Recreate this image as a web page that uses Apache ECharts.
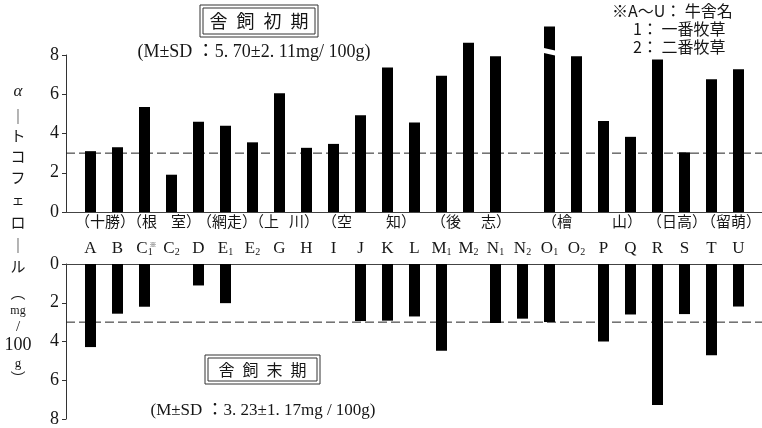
<!DOCTYPE html>
<html><head><meta charset="utf-8">
<script src="https://cdn.jsdelivr.net/npm/echarts@6/dist/echarts.min.js"></script>
<style>html,body{margin:0;padding:0;background:#fff}#c{width:762px;height:428px}</style>
</head><body><div id="c"></div>
<script>
const categories = ['A','B','C1','C2','D','E1','E2','G','H','I','J','K','L','M1','M2','N1','N2','O1','O2','P','Q','R','S','T','U'];
const earlyValues = [3.1,3.3,5.35,1.9,4.6,4.4,3.55,6.05,3.27,3.47,4.93,7.36,4.56,6.94,8.62,7.94,null,9.45,7.94,4.64,3.83,7.77,3.04,6.77,7.28];
const lateValues = [4.18,2.5,2.15,null,1.08,1.97,null,null,null,null,2.87,2.85,2.64,4.36,null,2.97,2.75,2.92,null,3.9,2.54,7.09,2.52,4.59,2.14];
const axisMin = 0, axisMax = 8, axisStep = 2;
const refLine = 3.0;
const breakMarks = [['O1', 8.14]];
const earlyTitle = '舎\u2002飼\u2002初\u2002期';
const lateTitle = '舎\u2002飼\u2002末\u2002期';
const earlyStat = '(M±SD ：5. 70±2. 11mg/ 100g)';
const lateStat = '(M±SD ：3. 23±1. 17mg / 100g)';
const noteLines = ['※A～U： 牛舎名', '1： 一番牧草', '2： 二番牧草'];

const SERIF = '"Liberation Serif","Noto Sans CJK JP",serif';
const CJK = '"Noto Sans CJK JP","Liberation Serif",sans-serif';
const INK = '#161616';

const chart = echarts.init(document.getElementById('c'));

function catLabel(v){
  if (v.length === 2) return v[0] + '{s|' + v[1] + '}';
  return v;
}

const TOP = 55, TOPH = 157, BOT = 264, BOTH = 159;
const BARL = 77, BARW = 675;

function frameY(idx, inverse){
  return {gridIndex: idx, type:'value', min:axisMin, max:axisMax, interval:axisStep, inverse:inverse,
    axisLine:{show:true, lineStyle:{color:'#333', width:1}},
    axisTick:{show:true, length:4, lineStyle:{color:'#333'}},
    axisLabel:{fontFamily:SERIF, fontSize:18, color:INK, margin:7},
    splitLine:{show:false}};
}
function frameX(idx, pos){
  return {gridIndex: idx, type:'value', min:0, max:1, position:pos,
    axisLine:{show:true, onZero:false, lineStyle:{color:'#444', width:1}},
    axisTick:{show:false}, axisLabel:{show:false}, splitLine:{show:false}};
}

// graphics
const g = [];
function box(x, y, w, h, text, fs){
  g.push({type:'rect', shape:{x:x, y:y, width:w, height:h}, style:{fill:'none', stroke:'#333', lineWidth:1}});
  g.push({type:'rect', shape:{x:x+3, y:y+3, width:w-6, height:h-6}, style:{fill:'none', stroke:'#333', lineWidth:1}});
  g.push({type:'text', x:x+w/2, y:y+h/2, style:{text:text, font:'400 '+fs+'px '+CJK, fill:INK, align:'center', verticalAlign:'middle'}});
}
box(200, 5, 118, 32, earlyTitle, 18);
box(205, 355, 115, 29, lateTitle, 16);
g.push({type:'text', x:254, y:52, style:{text:earlyStat, font:'18px '+SERIF, fill:INK, align:'center', verticalAlign:'middle'}});
g.push({type:'text', x:263, y:411, style:{text:lateStat, font:'17px '+SERIF, fill:INK, align:'center', verticalAlign:'middle'}});
const noteX = [612, 633, 633], noteY = [11, 29, 47];
noteLines.forEach((t,i)=>g.push({type:'text', x:noteX[i], y:noteY[i], style:{text:t, font:'16px '+CJK, fill:INK, verticalAlign:'middle'}}));

// region labels
const regionPieces = [['（十勝）',75],['（根',127],['室）',171],['（網走）',197],['（上',249],['川）',289],['（空',322],['知）',386],['（後',431],['志）',481],['（檜',542],['山）',612],['（日高）',647],['（留萌）',701]];
regionPieces.forEach(p=>g.push({type:'text', x:p[1], y:221, style:{text:p[0], font:'15px '+CJK, fill:INK, verticalAlign:'middle'}}));
g.push({type:'text', x:153, y:244, style:{text:'※', font:'7px '+CJK, fill:INK, align:'center', verticalAlign:'middle'}});

// vertical y-axis title
const vt = [['α',92,17,SERIF,'italic '],['｜',116,15,CJK,''],['ト',135,15,CJK,''],['コ',156,15,CJK,''],['フ',177,15,CJK,''],['ェ',199,13,CJK,''],['ロ',222,15,CJK,''],['｜',245,15,CJK,''],['ル',266,15,CJK,''],['︵',292,15,CJK,''],['mg',311,12,SERIF,''],['/',327,15,SERIF,''],['100',345,18,SERIF,''],['g',364,13,SERIF,''],['︶',378,15,CJK,'']];
vt.forEach(p=>g.push({type:'text', x:18, y:p[1], style:{text:p[0], font:p[4]+p[2]+'px '+p[3], fill:INK, align:'center', verticalAlign:'middle'}}));

const option = {
  animation:false,
  backgroundColor:'#fff',
  grid:[
    {left:BARL, width:BARW, top:TOP, height:TOPH},
    {left:BARL, width:BARW, top:BOT, height:BOTH},
    {left:66, right:0, top:TOP, height:TOPH},
    {left:66, right:0, top:BOT, height:BOTH}
  ],
  xAxis:[
    {gridIndex:0, type:'category', data:categories, axisLine:{show:false}, axisTick:{show:false}, axisLabel:{show:false}},
    {gridIndex:1, type:'category', data:categories, position:'top', axisLine:{show:false}, axisTick:{show:false},
      axisLabel:{interval:0, margin:7, fontFamily:SERIF, fontSize:17, color:INK, formatter:catLabel,
        rich:{s:{fontFamily:SERIF, fontSize:10, color:INK, verticalAlign:'bottom', padding:[6,0,0,0]}}}},
    frameX(2, 'bottom'),
    frameX(3, 'top')
  ],
  yAxis:[
    {gridIndex:0, type:'value', min:axisMin, max:axisMax, show:false},
    {gridIndex:1, type:'value', min:axisMin, max:axisMax, inverse:true, show:false},
    frameY(2, false),
    frameY(3, true)
  ],
  series:[
    {type:'bar', xAxisIndex:0, yAxisIndex:0, data:earlyValues, barWidth:11, clip:false, itemStyle:{color:'#000'}, z:2},
    {type:'bar', xAxisIndex:1, yAxisIndex:1, data:lateValues, barWidth:11, clip:false, itemStyle:{color:'#000'}, z:2},
    {type:'custom', xAxisIndex:0, yAxisIndex:0, data:breakMarks, z:5, clip:false,
      renderItem:function(params, api){
        const c = api.coord([api.value(0), api.value(1)]);
        const w = 18;
        return {type:'polygon', shape:{points:[[c[0]-w/2, c[1]-5],[c[0]+w/2, c[1]-1],[c[0]+w/2, c[1]+4],[c[0]-w/2, c[1]]]}, style:{fill:'#fff'}};
      }},
    {type:'line', xAxisIndex:2, yAxisIndex:2, data:[[0,refLine],[1,refLine]], symbol:'none', silent:true, z:1,
      lineStyle:{color:'#222', width:1, type:[9,4]}},
    {type:'line', xAxisIndex:3, yAxisIndex:3, data:[[0,refLine],[1,refLine]], symbol:'none', silent:true, z:1,
      lineStyle:{color:'#222', width:1, type:[9,4]}}
  ],
  graphic:g
};
chart.setOption(option);
</script></body></html>
